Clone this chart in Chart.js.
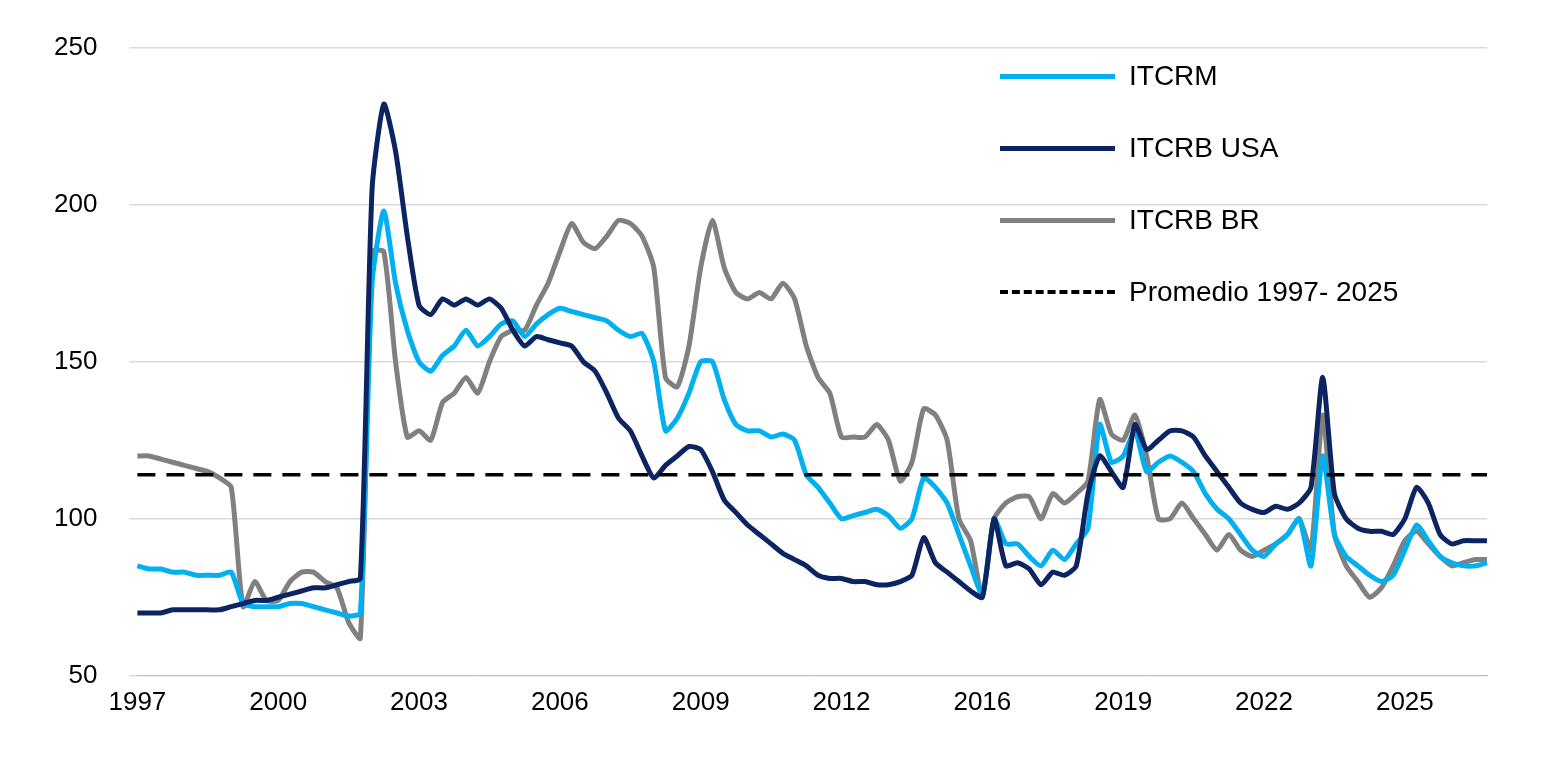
<!DOCTYPE html>
<html>
<head>
<meta charset="utf-8">
<script src="https://cdn.jsdelivr.net/npm/chart.js@4"></script>
<style>
  body { margin: 0; background: #fff; font-family: "Liberation Sans", Arial, sans-serif; }
  #wrap { position: relative; width: 1567px; height: 783px; }
  #legend { position: absolute; left: 1000px; top: 40px; }
  .row { display: flex; align-items: center; height: 72px; font-size: 28px; color: #000; }
  .line { width: 115px; margin-right: 14px; border-top: 5px solid; }
</style>
</head>
<body>
<div id="wrap">
  <canvas id="chart"></canvas>
  <div id="legend">
    <div class="row"><div class="line" style="border-color:#00b0f0"></div>ITCRM</div>
    <div class="row"><div class="line" style="border-color:#0c2461"></div>ITCRB USA</div>
    <div class="row"><div class="line" style="border-color:#808080"></div>ITCRB BR</div>
    <div class="row"><div class="line" style="border-top:4px dashed #000"></div>Promedio 1997- 2025</div>
  </div>
</div>
<script>
// quarterly values, 1997 Q1 onward
let TICK_LABELS = ["1997", "2000", "2003", "2006", "2009", "2012", "2016", "2019", "2022", "2025"]
let AVERAGE = 114

let itcrm = [85,84,84,83,83,82,82,82, 83,73,72,72, 72,73,73,72, 71,70,69,70,
    175,198,175,160, 150,147,152,155, 160,155,158,162, 163,158,162,165, 167,166,165,164,
    163,160,158,159, 150,128,132,140, 150,150,138,130, 128,128,126,127, 125,114,110,105,
    100,101,102,103, 101,97,100,113, 110,105,95,85, 76,100,92,92, 88,85,90,87,
    92,97,130,118, 120,128,115,118, 120,118,115,108, 103,100,95,90, 88,92,95,100,
    85,120,95,88, 85,82,80,82, 90,98,93,88, 86,85,85,86]

let itcrbUsa = [70,70,70,71,71,71,71,71, 72,73,74,74, 75,76,77,78, 78,79,80,81,
    205,232,217,190, 168,165,170,168, 170,168,170,167, 160,155,158,157, 156,155,150,147,
    140,132,128,120, 113,117,120,123, 122,115,106,102, 98,95,92,89, 87,85,82,81,
    81,80,80,79, 79,80,82,94, 86,83,80,77, 75,100,85,86, 84,79,83,82,
    85,108,120,115, 110,130,122,125, 128,128,126,120, 115,110,105,103, 102,104,103,105,
    110,145,108,100, 97,96,96,95, 100,110,105,95, 92,93,93,93]

let itcrbBr = [120,120,119,118,117,116,115,113, 110,72,80,74, 74,80,83,83, 80,78,67,62,
    185,185,150,126, 128,125,137,140, 145,140,150,158, 160,160,168,175, 185,194,188,186,
    190,195,194,190, 180,145,142,155, 180,195,180,172, 170,172,170,175, 170,155,145,140,
    126,126,126,130, 125,112,118,135, 133,125,100,93, 75,100,105,107, 107,100,108,105,
    108,112,138,127, 125,133,120,100, 100,105,100,95, 90,95,90,88, 90,92,95,100,
    90,133,95,85, 80,75,78,85, 93,96,92,88, 85,86,87,87]

let labels = itcrm.map((v, i) => i)
let average = itcrm.map(() => AVERAGE)

function lineSet(label, data, color, order) {
    return { label: label, data: data, borderColor: color, borderWidth: 5,
        pointRadius: 0, tension: 0.2, order: order }
}

new Chart(document.getElementById('chart'), {
    type: 'line',
    data: {
        labels: labels,
        datasets: [
            lineSet('ITCRB BR', itcrbBr, '#808080', 3),
            lineSet('ITCRM', itcrm, '#00b0f0', 2),
            lineSet('ITCRB USA', itcrbUsa, '#0c2461', 1),
            { label: 'Promedio 1997- 2025', data: average, borderColor: '#000', borderWidth: 3.5,
              borderDash: [18, 11], pointRadius: 0, order: 0 }
        ]
    },
    options: {
        responsive: true,
        maintainAspectRatio: false,
        animation: false,
        layout: { padding: { left: 22, right: 80, top: 38, bottom: 62 } },
        plugins: { legend: { display: false }, tooltip: { enabled: false } },
        scales: {
            x: {
                grid: { display: false },
                border: { color: '#bfbfbf' },
                ticks: {
                    autoSkip: false, maxRotation: 0,
                    color: '#000', font: { size: 26, family: 'Liberation Sans' },
                    callback: (v, i) => i % 12 == 0 ? TICK_LABELS[i / 12] : null
                }
            },
            y: {
                min: 50, max: 250,
                grid: { color: '#d9d9d9', lineWidth: 1.5 },
                border: { display: false },
                ticks: { stepSize: 50, padding: 32, color: '#000', font: { size: 26, family: 'Liberation Sans' } }
            }
        }
    }
})
</script>
</body>
</html>
